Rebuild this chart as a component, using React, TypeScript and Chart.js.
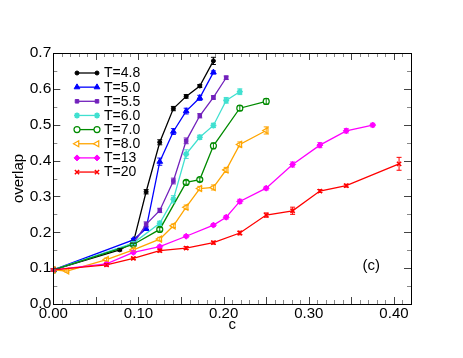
import React, { useEffect, useRef } from 'react';
import { Chart, registerables } from 'chart.js';
import { drawPoint } from 'chart.js/helpers';

Chart.register(...registerables);

// ---- data ----
const seriesLabels = ['T=4.8', 'T=5.0', 'T=5.5', 'T=6.0', 'T=7.0', 'T=8.0', 'T=13', 'T=20'];

const c48 = [0, 0.078, 0.094, 0.109, 0.125, 0.141, 0.156, 0.172, 0.188];
const o48 = [0.095, 0.151, 0.172, 0.313, 0.451, 0.545, 0.579, 0.608, 0.678];
const e48 = [0.003, 0.003, 0.004, 0.006, 0.007, 0.006, 0.005, 0.004, 0.01];

const c50 = [0, 0.094, 0.109, 0.125, 0.141, 0.156, 0.172, 0.188];
const o50 = [0.095, 0.179, 0.21, 0.397, 0.481, 0.538, 0.575, 0.646];
const e50 = [0.003, 0.004, 0.005, 0.01, 0.008, 0.008, 0.007, 0.004];

const c55 = [0, 0.094, 0.109, 0.125, 0.141, 0.156, 0.172, 0.188, 0.203];
const o55 = [0.095, 0.168, 0.222, 0.261, 0.343, 0.455, 0.525, 0.576, 0.631];
const e55 = [0.003, 0.004, 0.007, 0.006, 0.008, 0.008, 0.006, 0.005, 0.005];

const c60 = [0, 0.094, 0.125, 0.141, 0.156, 0.172, 0.188, 0.203, 0.219];
const o60 = [0.095, 0.17, 0.225, 0.292, 0.418, 0.465, 0.498, 0.568, 0.592];
const e60 = [0.003, 0.004, 0.006, 0.01, 0.012, 0.006, 0.006, 0.008, 0.008];

const c70 = [0, 0.094, 0.125, 0.156, 0.172, 0.188, 0.219, 0.25];
const o70 = [0.095, 0.166, 0.208, 0.339, 0.347, 0.441, 0.546, 0.565];
const e70 = [0.003, 0.004, 0.005, 0.005, 0.005, 0.008, 0.007, 0.008];

const c80 = [0, 0.016, 0.0625, 0.094, 0.125, 0.141, 0.156, 0.172, 0.188, 0.203, 0.219, 0.25];
const o80 = [0.095, 0.092, 0.124, 0.151, 0.181, 0.218, 0.27, 0.322, 0.325, 0.374, 0.445, 0.484];
const e80 = [0.003, 0.003, 0.004, 0.004, 0.005, 0.005, 0.006, 0.006, 0.007, 0.007, 0.007, 0.01];

const c13 = [0, 0.0625, 0.094, 0.125, 0.156, 0.188, 0.203, 0.219, 0.25, 0.281, 0.313, 0.344, 0.375];
const o13 = [0.095, 0.112, 0.144, 0.16, 0.189, 0.22, 0.242, 0.286, 0.323, 0.389, 0.443, 0.483, 0.499];
const e13 = [0.003, 0.003, 0.004, 0.004, 0.004, 0.004, 0.005, 0.006, 0.005, 0.007, 0.007, 0.006, 0.005];

const c20 = [0, 0.0625, 0.094, 0.125, 0.156, 0.188, 0.219, 0.25, 0.281, 0.313, 0.344, 0.406];
const o20 = [0.095, 0.109, 0.127, 0.149, 0.156, 0.171, 0.198, 0.248, 0.26, 0.315, 0.33, 0.391];
const e20 = [0.003, 0.003, 0.003, 0.004, 0.004, 0.004, 0.005, 0.006, 0.01, 0.004, 0.004, 0.018];

const xTickValues = [0, 0.1, 0.2, 0.3, 0.4];
const yTickValues = [0, 0.1, 0.2, 0.3, 0.4, 0.5, 0.6, 0.7];
const panelLabel = '(c)';
const panelLabelPos = { x: 0.363, y: 0.106 };

// ---- styles ----
const FONT = "'Liberation Sans', Arial, Helvetica, sans-serif";
const styles = [
  { color: '#000000', pointStyle: 'circle', radius: 2, fill: true, bw: 1 },
  { color: '#0000ff', pointStyle: 'triangle', radius: 3.3, fill: true, bw: 1 },
  { color: '#7221bc', pointStyle: 'rect', radius: 2.5, fill: true, bw: 1 },
  { color: '#40e0d0', pointStyle: 'star', radius: 3, fill: true, bw: 1.6 },
  { color: '#008b00', pointStyle: 'circle', radius: 3, fill: false, bw: 1.2 },
  { color: '#ffa500', pointStyle: 'triangle', radius: 3.5, fill: false, bw: 1.2, rotation: -90 },
  { color: '#ff00ff', pointStyle: 'rectRot', radius: 3, fill: true, bw: 1 },
  { color: '#ff0000', pointStyle: 'crossRot', radius: 3, fill: true, bw: 1.5 },
];

const xs = [c48, c50, c55, c60, c70, c80, c13, c20];
const ys = [o48, o50, o55, o60, o70, o80, o13, o20];
const es = [e48, e50, e55, e60, e70, e80, e13, e20];

const errorBarPlugin = {
  id: 'errorBars',
  afterDatasetsDraw(chart: any) {
    const ctx = chart.ctx;
    const xS = chart.scales.x;
    const yS = chart.scales.y;
    ctx.save();
    chart.data.datasets.forEach((ds: any, i: number) => {
      ctx.strokeStyle = ds.borderColor;
      ctx.lineWidth = 1;
      ds.data.forEach((p: any, j: number) => {
        const e = es[i][j];
        const px = xS.getPixelForValue(p.x);
        const y1 = yS.getPixelForValue(p.y - e);
        const y2 = yS.getPixelForValue(p.y + e);
        ctx.beginPath();
        ctx.moveTo(px, y1);
        ctx.lineTo(px, y2);
        ctx.moveTo(px - 2.5, y1);
        ctx.lineTo(px + 2.5, y1);
        ctx.moveTo(px - 2.5, y2);
        ctx.lineTo(px + 2.5, y2);
        ctx.stroke();
      });
    });
    ctx.restore();
  },
};

const frameTickPlugin = {
  id: 'frameTicks',
  afterDraw(chart: any) {
    const ctx = chart.ctx;
    const a = chart.chartArea;
    const xS = chart.scales.x;
    const yS = chart.scales.y;
    ctx.save();
    // ticks
    ctx.lineWidth = 1;
    for (let i = 0; i <= 42; i++) {
      const v = i / 100;
      const px = Math.round(xS.getPixelForValue(v)) + 0.5;
      const major = i % 5 === 0;
      const len = major ? 7 : 4;
      ctx.strokeStyle = major ? '#444' : '#888';
      ctx.beginPath();
      ctx.moveTo(px, a.bottom);
      ctx.lineTo(px, a.bottom - len);
      ctx.moveTo(px, a.top);
      ctx.lineTo(px, a.top + len);
      ctx.stroke();
    }
    for (let i = 0; i <= 14; i++) {
      const v = i / 20;
      const py = Math.round(yS.getPixelForValue(v)) + 0.5;
      const major = i % 2 === 0;
      const len = major ? 7 : 4;
      ctx.strokeStyle = major ? '#444' : '#888';
      ctx.beginPath();
      ctx.moveTo(a.left, py);
      ctx.lineTo(a.left + len, py);
      ctx.moveTo(a.right, py);
      ctx.lineTo(a.right - len, py);
      ctx.stroke();
    }
    // frame
    ctx.strokeStyle = '#000';
    ctx.lineWidth = 1;
    ctx.strokeRect(Math.round(a.left) + 0.5, Math.round(a.top) + 0.5, Math.round(a.right - a.left), Math.round(a.bottom - a.top));

    // legend
    const lx1 = 77, lx2 = 97, ly0 = 73, dy = 14.15;
    chart.data.datasets.forEach((ds: any, i: number) => {
      const st = styles[i];
      const y = ly0 + i * dy;
      ctx.strokeStyle = st.color;
      ctx.lineWidth = 1.3;
      ctx.beginPath();
      ctx.moveTo(lx1, y);
      ctx.lineTo(lx2, y);
      ctx.stroke();
      [lx1, lx2].forEach((x) => {
        ctx.fillStyle = st.fill ? st.color : '#ffffff';
        ctx.strokeStyle = st.color;
        ctx.lineWidth = st.bw;
        drawPoint(ctx, { pointStyle: st.pointStyle, radius: st.radius, rotation: st.rotation || 0, borderWidth: st.bw }, x, y);
      });
      ctx.fillStyle = '#000';
      ctx.font = `14px ${FONT}`;
      ctx.textAlign = 'left';
      ctx.textBaseline = 'middle';
      ctx.fillText(seriesLabels[i], 104, y + 0.5);
    });

    // panel label
    ctx.fillStyle = '#000';
    ctx.font = `15px ${FONT}`;
    ctx.textAlign = 'left';
    ctx.textBaseline = 'middle';
    ctx.fillText(panelLabel, xS.getPixelForValue(panelLabelPos.x), yS.getPixelForValue(panelLabelPos.y));
    ctx.restore();
  },
};

export default function App() {
  const ref = useRef<HTMLCanvasElement | null>(null);
  useEffect(() => {
    if (!ref.current) return;
    const datasets = xs.map((cx, i) => {
      const st = styles[i];
      return {
        label: seriesLabels[i],
        data: cx.map((x, j) => ({ x, y: ys[i][j] })),
        showLine: true,
        borderColor: st.color,
        backgroundColor: st.color,
        borderWidth: 1.3,
        pointStyle: st.pointStyle,
        pointRadius: st.radius,
        pointRotation: st.rotation || 0,
        pointBackgroundColor: st.fill ? st.color : '#ffffff',
        pointBorderColor: st.color,
        pointBorderWidth: st.bw,
        order: 8 - i,
      };
    });
    const chart = new Chart(ref.current, {
      type: 'scatter',
      data: { datasets },
      options: {
        responsive: false,
        animation: false,
        events: [],
        layout: { padding: { left: 6, top: 53, right: 52, bottom: 20 } },
        plugins: { legend: { display: false }, tooltip: { enabled: false } },
        scales: {
          x: {
            type: 'linear',
            min: 0,
            max: 0.42,
            afterBuildTicks: (s: any) => {
              s.ticks = xTickValues.map((v) => ({ value: v }));
            },
            afterFit: (s: any) => {
              s.height = 34;
            },
            grid: { display: false, drawTicks: false },
            border: { display: false },
            ticks: {
              padding: 1,
              color: '#000',
              font: { family: FONT, size: 15 },
              maxRotation: 0,
              callback: (v: any) => Number(v).toFixed(2),
            },
            title: { display: true, text: 'c', color: '#000', font: { family: FONT, size: 15 }, padding: 4 },
          },
          y: {
            type: 'linear',
            min: 0,
            max: 0.7,
            afterBuildTicks: (s: any) => {
              s.ticks = yTickValues.map((v) => ({ value: v }));
            },
            afterFit: (s: any) => {
              s.width = 47.3;
            },
            grid: { display: false, drawTicks: false },
            border: { display: false },
            ticks: {
              padding: 2,
              color: '#000',
              font: { family: FONT, size: 15.5 },
              callback: (v: any) => Number(v).toFixed(1),
            },
            title: { display: true, text: 'overlap', color: '#000', font: { family: FONT, size: 15 }, padding: 4 },
          },
        },
      },
      plugins: [errorBarPlugin, frameTickPlugin],
    } as any);
    return () => chart.destroy();
  }, []);
  return (
    <div style={{ position: 'fixed', left: 0, top: 0, width: 463, height: 358, background: '#fff' }}>
      <canvas ref={ref} width={463} height={358} style={{ width: 463, height: 358, display: 'block' }} />
    </div>
  );
}
